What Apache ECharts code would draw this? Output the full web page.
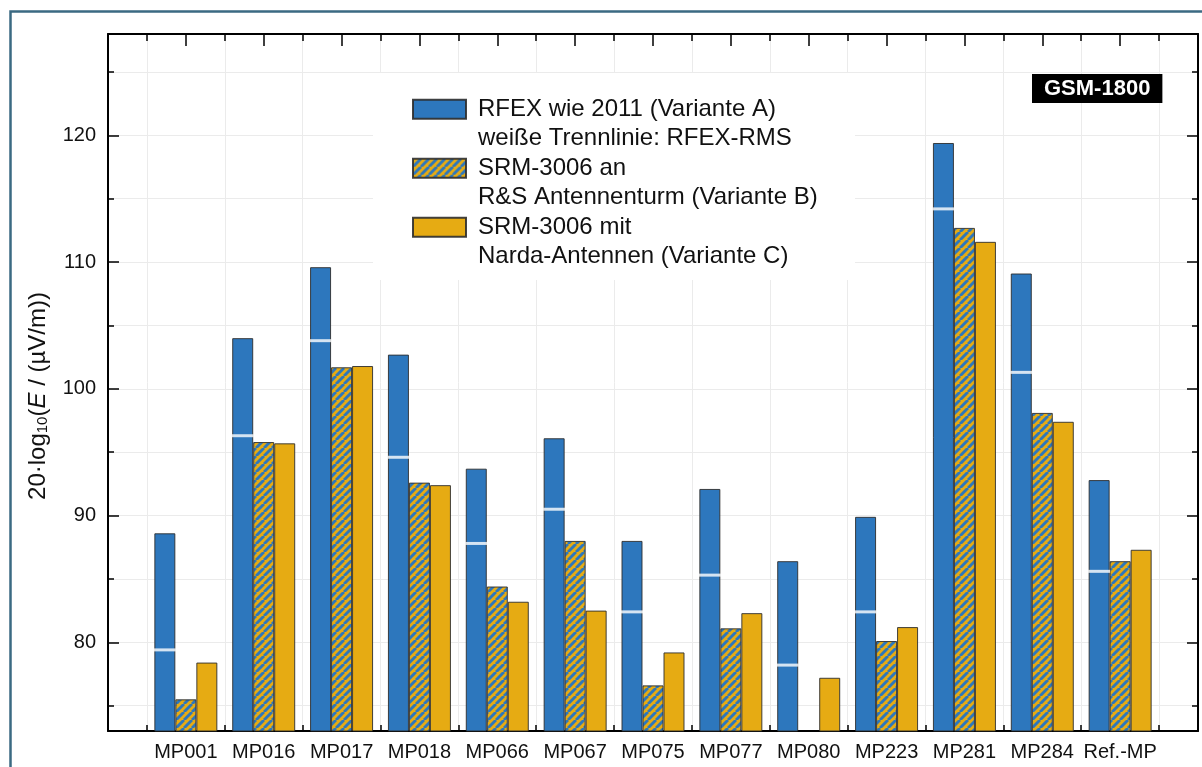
<!DOCTYPE html>
<html>
<head>
<meta charset="utf-8">
<script src="https://cdn.jsdelivr.net/npm/echarts@6/dist/echarts.min.js"></script>
<style>
  html, body { margin: 0; padding: 0; background: #fff; }
  #chart { width: 1202px; height: 767px; }
</style>
</head>
<body>
<div id="chart"></div>
<script>
// ---------- data ----------
const categories = ['MP001', 'MP016', 'MP017', 'MP018', 'MP066', 'MP067', 'MP075', 'MP077', 'MP080', 'MP223', 'MP281', 'MP284', 'Ref.-MP'];
const rfexA   = [88.6, 104.0, 109.6, 102.7, 93.7, 96.1, 88.0, 92.1, 86.4, 89.9, 119.4, 109.1, 92.8];
const rfexRms = [79.4,  96.3, 103.8,  94.6, 87.8, 90.5, 82.4, 85.3, 78.2, 82.4, 114.2, 101.3, 85.6];
const srmB    = [75.5,  95.8, 101.7,  92.6, 84.4, 88.0, 76.6, 81.1, null, 80.1, 112.7,  98.1, 86.4];
const srmC    = [78.4,  95.7, 101.8,  92.4, 83.2, 82.5, 79.2, 82.3, 77.2, 81.2, 111.6,  97.4, 87.3];
const seriesNames = ['RFEX wie 2011 (Variante A)', 'SRM-3006 an', 'SRM-3006 mit'];
const legendSecondLines = ['weiße Trennlinie: RFEX-RMS', 'R&S Antennenturm (Variante B)', 'Narda-Antennen (Variante C)'];
const yMin = 73, yMax = 128;
const bandLabel = 'GSM-1800';

// ---------- styling ----------
const BLUE = '#2d77bd';
const YELLOW = '#e6ab13';
const EDGE = 'rgba(45,45,45,0.9)';
const GRIDC = '#ebebeb';
const FONT = '"Liberation Sans", Arial, Helvetica, sans-serif';
const BAR_W = 21;

function makeHatch(bg, fg, s) {
  const c = document.createElement('canvas');
  c.width = s; c.height = s;
  const ctx = c.getContext('2d');
  ctx.fillStyle = bg;
  ctx.fillRect(0, 0, s, s);
  ctx.strokeStyle = fg;
  ctx.lineWidth = s * 0.354;
  ctx.beginPath();
  for (const o of [-s, 0, s]) { ctx.moveTo(o, s); ctx.lineTo(o + s, 0); }
  ctx.stroke();
  return c;
}
const hatch = { image: makeHatch(YELLOW, BLUE, 8), repeat: 'repeat' };

const pad = a => ['-'].concat(a.map(v => (v === null ? '-' : v)), ['-']);
const padCats = [''].concat(categories, ['']);
const nCat = padCats.length - 1;

const chart = echarts.init(document.getElementById('chart'), null, { renderer: 'canvas' });

const tickStyle = { color: '#000', width: 1.5 };

const option = {
  backgroundColor: '#fff',
  animation: false,
  textStyle: { fontFamily: FONT },
  title: {
    text: bandLabel,
    left: 1032, top: 74,
    padding: [3, 12, 3, 12],
    backgroundColor: '#000',
    textStyle: { color: '#fff', fontWeight: 'bold', fontSize: 22, lineHeight: 23, fontFamily: FONT }
  },
  legend: {
    data: seriesNames,
    orient: 'vertical',
    left: 412, top: 65,
    padding: 0,
    itemWidth: 53, itemHeight: 19,
    itemGap: -29.5,
    icon: 'rect',
    selectedMode: false,
    formatter: name => '\n' + name + '\n' + legendSecondLines[seriesNames.indexOf(name)],
    textStyle: { fontSize: 24, lineHeight: 29.5, color: '#111', fontFamily: FONT, padding: [0, 0, 0, 7] }
  },
  graphic: [
    { type: 'rect', z: 1, silent: true, shape: { x: 373, y: 73, width: 482, height: 207 }, style: { fill: '#fff' } },
    { type: 'rect', z: 100, silent: true, shape: { x: 10.5, y: 11.5, width: 1400, height: 1000 }, style: { fill: 'none', stroke: '#3b6a82', lineWidth: 2.5 } }
  ],
  grid: { left: 108, right: 4, top: 34, bottom: 36 },
  xAxis: [
    {
      type: 'category', data: padCats, boundaryGap: false, position: 'bottom',
      axisLine: { show: true, onZero: false, lineStyle: { color: '#000', width: 2 } },
      axisTick: { show: false },
      axisLabel: { interval: 0, fontSize: 20, color: '#111', margin: 11, fontFamily: FONT },
      splitLine: { show: false }
    },
    {
      type: 'value', min: 0, max: nCat, interval: 1, position: 'bottom',
      axisLine: { show: false, onZero: false },
      axisTick: { show: false, inside: true },
      axisLabel: { show: false },
      minorTick: { show: true, splitNumber: 2, length: 6, lineStyle: tickStyle },
      splitLine: { show: false },
      minorSplitLine: { show: true, lineStyle: { color: GRIDC, width: 1 } }
    },
    {
      type: 'value', min: 0, max: nCat, interval: 1, position: 'top',
      axisLine: { show: true, onZero: false, lineStyle: { color: '#000', width: 2 } },
      axisTick: { show: true, inside: true, length: 12, lineStyle: tickStyle },
      axisLabel: { show: false },
      minorTick: { show: true, splitNumber: 2, length: 7, lineStyle: tickStyle },
      splitLine: { show: false }
    }
  ],
  yAxis: [
    {
      type: 'value', min: yMin, max: yMax, position: 'left',
      name: '20·log{sub|10}({it|E} / (µV/m))',
      nameLocation: 'middle', nameRotate: 90, nameGap: 58,
      nameTextStyle: {
        fontSize: 24, color: '#111', fontFamily: FONT, padding: [0, 27, 0, 0],
        rich: {
          sub: { fontSize: 15, fontFamily: FONT, color: '#111', verticalAlign: 'bottom', lineHeight: 15 },
          it: { fontSize: 24, fontFamily: FONT, color: '#111', fontStyle: 'italic' }
        }
      },
      axisLine: { show: true, onZero: false, lineStyle: { color: '#000', width: 2 } },
      axisTick: { show: true, inside: true, length: 11, lineStyle: tickStyle },
      minorTick: { show: true, splitNumber: 2, length: 6, lineStyle: tickStyle },
      axisLabel: { fontSize: 20, color: '#111', margin: 12, fontFamily: FONT,
        formatter: v => (Math.abs(v % 10) < 1e-9 ? String(v) : '') },
      splitLine: { show: true, lineStyle: { color: GRIDC, width: 1 } },
      minorSplitLine: { show: true, lineStyle: { color: GRIDC, width: 1 } }
    },
    {
      type: 'value', min: yMin, max: yMax, position: 'right',
      axisLine: { show: true, onZero: false, lineStyle: { color: '#000', width: 2 } },
      axisTick: { show: true, inside: true, length: 11, lineStyle: tickStyle },
      minorTick: { show: true, splitNumber: 2, length: 6, lineStyle: tickStyle },
      axisLabel: { show: false },
      splitLine: { show: false }
    }
  ],
  series: [
    {
      name: seriesNames[0], type: 'bar', xAxisIndex: 0, yAxisIndex: 0,
      barWidth: BAR_W, barGap: '0%', data: pad(rfexA),
      itemStyle: { color: BLUE, borderColor: EDGE, borderWidth: 1 }, silent: true
    },
    {
      name: seriesNames[1], type: 'bar', xAxisIndex: 0, yAxisIndex: 0,
      barWidth: BAR_W, barGap: '0%', data: pad(srmB),
      itemStyle: { color: hatch, borderColor: EDGE, borderWidth: 1 }, silent: true
    },
    {
      name: seriesNames[2], type: 'bar', xAxisIndex: 0, yAxisIndex: 0,
      barWidth: BAR_W, barGap: '0%', data: pad(srmC),
      itemStyle: { color: YELLOW, borderColor: EDGE, borderWidth: 1 }, silent: true
    },
    {
      name: 'RFEX-RMS', type: 'scatter', xAxisIndex: 0, yAxisIndex: 0, z: 5,
      symbol: 'rect', symbolSize: [BAR_W + 1, 3], symbolOffset: [-BAR_W, 0],
      data: pad(rfexRms),
      itemStyle: { color: '#fff' }, silent: true
    }
  ]
};
chart.setOption(option);
</script>
</body>
</html>
